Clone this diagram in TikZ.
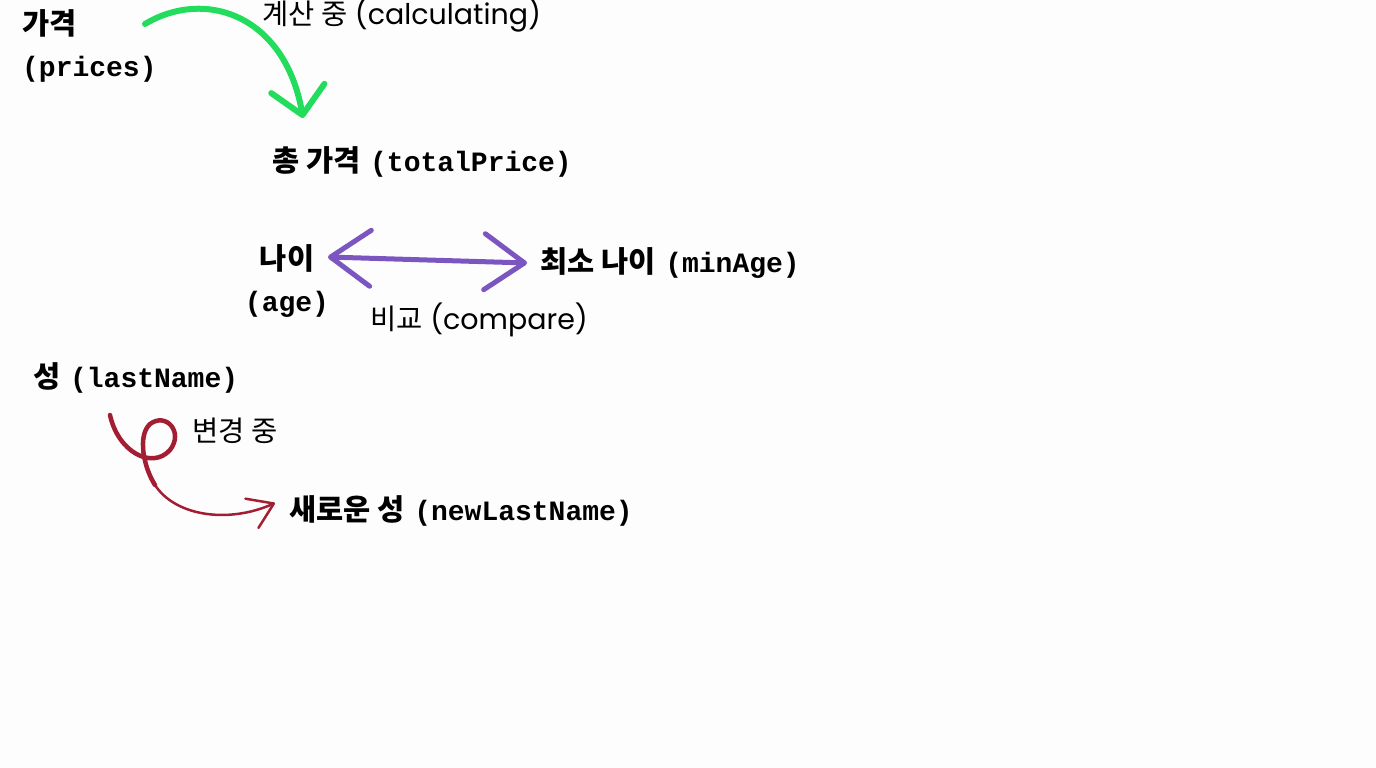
\documentclass[tikz,border=0pt]{standalone}
\usepackage{fontspec}
\setmainfont{Poppins}
\newfontfamily\kr{Noto Sans CJK KR}
\newfontfamily\code{Liberation Mono}
\usetikzlibrary{arrows.meta,positioning}

\definecolor{paper}{RGB}{253,253,253}
\definecolor{calcgreen}{RGB}{34,221,92}
\definecolor{cmppurple}{RGB}{123,86,192}
\definecolor{chgred}{RGB}{163,30,50}
\newcommand\ko[1]{{\kr\fontsize{29.5}{42}\selectfont #1}}

\begin{document}
\begin{tikzpicture}[x=1pt,y=-1pt,line cap=round,line join=round,
    var/.style={font=\fontsize{28}{42}\selectfont\bfseries,inner sep=0pt,anchor=west},
    note/.style={font=\fontsize{28.5}{32}\selectfont,text=black,inner sep=0pt,anchor=west},
    gtip/.tip={Straight Barb[length=27pt,width=54pt,line cap=round,line join=round]},
    ptip/.tip={Straight Barb[length=40pt,width=56pt,line cap=round,line join=round]},
    rtip/.tip={Straight Barb[length=24pt,width=32pt,line cap=round,line join=round]}]

            \fill[paper] (0,0) rectangle (1376,768);
            \useasboundingbox (0,0) rectangle (1376,768);

            % variables
            \node[var,align=left] (prices) at (22,46) {\ko{가격}\\{\code (prices)}};
            \node[var] (total) at (272,162) {\ko{총 가격}\hspace{0.35em}{\code (totalPrice)}};
            \node[var,align=center,anchor=center] (age) at (287,281) {\ko{나이}\\{\code (age)}};
            \node[var] (minage) at (540,263) {\ko{최소 나이}\hspace{0.35em}{\code (minAge)}};
            \node[var] (last) at (33,378) {\ko{성}\hspace{0.35em}{\code (lastName)}};
            \node[var] (newlast) at (289,511) {\ko{새로운 성}\hspace{0.35em}{\code (newLastName)}};

            % labels
            \node[note] (calc) at (262,15) {{\kr 계산 중} (calculating)};
            \node[note] (cmp) at (370,320) {{\kr 비교} (compare)};
            \node[note] (chg) at (192,431) {\kr 변경 중};

            % arrow ends
            \coordinate (g0) at (145,24);
            \coordinate (g1) at (303,118);
            \coordinate (p0) at (328,257);
            \coordinate (p1) at (527,263);
            \coordinate (r0) at (110,415);
            \coordinate (r1) at (155,485);
            \coordinate (r2) at (275,503);

            \draw[calcgreen,line width=6pt,-gtip] (g0) .. controls (205,-12) and (285,15) .. (g1);
            \draw[cmppurple,line width=5pt,ptip-ptip] (p0) -- (p1);
            \draw[chgred,line width=4.5pt] (r0) .. controls (118,452) and (152,470) .. (170,450)
                                              .. controls (184,432) and (166,412) .. (150,424)
                                              .. controls (137,436) and (144,468) .. (r1);
            \draw[chgred,line width=2.5pt,-rtip] (r1) .. controls (175,516) and (228,524) .. (r2);

\end{tikzpicture}
\end{document}
